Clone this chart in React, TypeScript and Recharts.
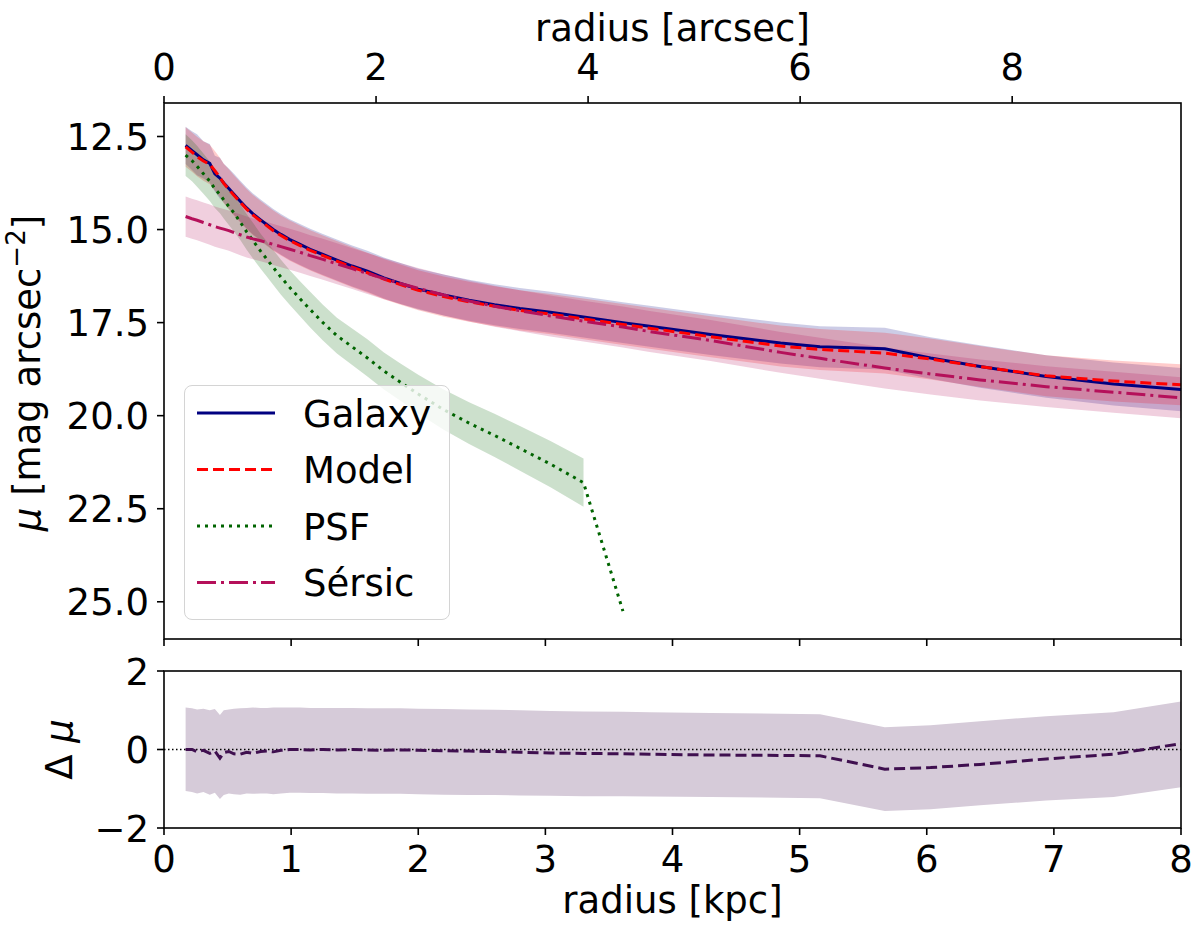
import React from "react";
import { Area, ComposedChart, Line, ReferenceLine, XAxis, YAxis } from "recharts";

// radius in kpc, shared by both panels
const radius = [
  0.17, 0.22, 0.26, 0.31, 0.36, 0.4, 0.44, 0.47, 0.51, 0.55, 0.6, 0.65, 0.7, 0.76, 0.81, 0.86, 0.92, 0.99, 1.07,
  1.15, 1.25, 1.36, 1.48, 1.6, 1.73, 1.86, 2.0, 2.2, 2.4, 2.6, 2.8, 3.04, 3.3, 3.61, 3.82, 4.3, 4.85, 5.16, 5.67,
  6.03, 6.42, 6.94, 7.47, 8.0
];
const kpcPerArcsec = 0.834;

// surface brightness profiles [mag arcsec^-2]
const galaxy = [
  12.74, 12.88, 12.99, 13.13, 13.22, 13.5, 13.62, 13.75, 13.9, 14.05, 14.24, 14.42, 14.58, 14.74, 14.87, 15.0, 15.13,
  15.27, 15.4, 15.53, 15.67, 15.82, 15.98, 16.12, 16.3, 16.45, 16.6, 16.76, 16.9, 17.02, 17.12, 17.22, 17.35, 17.5,
  17.6, 17.82, 18.05, 18.15, 18.2, 18.45, 18.68, 18.95, 19.15, 19.3
];
const galaxyErr = [
  0.5, 0.52, 0.55, 0.5, 0.52, 0.48, 0.55, 0.52, 0.54, 0.55, 0.55, 0.55, 0.55, 0.55, 0.55, 0.55, 0.55, 0.55, 0.55,
  0.55, 0.55, 0.55, 0.55, 0.55, 0.55, 0.55, 0.55, 0.55, 0.55, 0.55, 0.55, 0.55, 0.55, 0.55, 0.55, 0.55, 0.55, 0.55,
  0.56, 0.56, 0.57, 0.57, 0.58, 0.58
];
const model = [
  12.78, 12.92, 13.04, 13.16, 13.25, 13.42, 13.6, 13.76, 13.92, 14.08, 14.27, 14.45, 14.61, 14.77, 14.9, 15.03, 15.16,
  15.3, 15.43, 15.56, 15.7, 15.85, 16.01, 16.16, 16.33, 16.48, 16.63, 16.8, 16.94, 17.06, 17.17, 17.27, 17.4, 17.55,
  17.65, 17.88, 18.13, 18.22, 18.32, 18.48, 18.68, 18.93, 19.07, 19.17
];
const modelErr = [
  0.53, 0.53, 0.53, 0.53, 0.53, 0.53, 0.53, 0.53, 0.54, 0.54, 0.54, 0.54, 0.54, 0.54, 0.54, 0.54, 0.54, 0.54, 0.54,
  0.54, 0.54, 0.54, 0.54, 0.54, 0.54, 0.54, 0.54, 0.54, 0.54, 0.54, 0.54, 0.54, 0.55, 0.55, 0.55, 0.55, 0.55, 0.55,
  0.55, 0.55, 0.55, 0.55, 0.55, 0.55
];
const psf = [
  13.0, 13.15, 13.3, 13.5, 13.7, 13.9, 14.06, 14.2, 14.38, 14.55, 14.8, 15.06, 15.3, 15.58, 15.8, 16.02, 16.28, 16.56,
  16.86, 17.15, 17.5, 17.85, 18.15, 18.45, 18.8, 19.1, 19.42, 19.84, 20.2, 20.53, 20.88, 21.3, 21.8, 25.25, null,
  null, null, null, null, null, null, null, null, null
];
const psfErr = [
  0.56, 0.55, 0.55, 0.54, 0.53, 0.52, 0.5, 0.5, 0.5, 0.5, 0.48, 0.48, 0.48, 0.47, 0.47, 0.47, 0.47, 0.47, 0.47, 0.48,
  0.48, 0.48, 0.49, 0.5, 0.5, 0.5, 0.52, 0.54, 0.56, 0.58, 0.6, 0.62, 0.65, null, null, null, null, null, null, null,
  null, null, null, null
];
const sersic = [
  14.65, 14.71, 14.75, 14.81, 14.87, 14.92, 14.96, 14.99, 15.03, 15.08, 15.14, 15.2, 15.25, 15.3, 15.35, 15.4, 15.46,
  15.53, 15.61, 15.7, 15.8, 15.92, 16.05, 16.18, 16.32, 16.45, 16.58, 16.76, 16.92, 17.06, 17.18, 17.32, 17.46, 17.62,
  17.74, 17.98, 18.3, 18.46, 18.72, 18.88, 19.04, 19.22, 19.37, 19.52
];
const sersicErr = [
  0.54, 0.54, 0.54, 0.54, 0.54, 0.54, 0.54, 0.54, 0.54, 0.54, 0.55, 0.55, 0.55, 0.55, 0.55, 0.55, 0.55, 0.55, 0.55,
  0.55, 0.55, 0.55, 0.55, 0.55, 0.55, 0.55, 0.55, 0.55, 0.55, 0.55, 0.55, 0.55, 0.55, 0.55, 0.55, 0.55, 0.55, 0.55,
  0.55, 0.55, 0.55, 0.55, 0.55, 0.55
];

// residual panel
const residual = [
  0.0, 0.0, -0.06, -0.02, -0.1, -0.04, -0.22, -0.08, -0.05, -0.11, -0.12, -0.07, -0.1, -0.05, -0.04, -0.06, -0.02, 0.0,
  0.0, -0.01, 0.0, -0.01, 0.0, -0.01, -0.02, -0.01, -0.02, -0.03, -0.04, -0.05, -0.07, -0.09, -0.1, -0.11, -0.12,
  -0.14, -0.15, -0.16, -0.5, -0.46, -0.38, -0.24, -0.12, 0.15
];
const residualHi = [
  1.07, 1.05, 1.02, 1.04, 1.0, 1.03, 0.88, 1.0, 1.02, 1.04, 1.05, 1.06, 1.07, 1.06, 1.06, 1.07, 1.07, 1.07, 1.07, 1.06,
  1.06, 1.06, 1.06, 1.05, 1.05, 1.05, 1.04, 1.03, 1.02, 1.01, 1.0, 0.98, 0.97, 0.96, 0.95, 0.93, 0.91, 0.9, 0.57,
  0.62, 0.72, 0.85, 0.95, 1.22
];
const residualLo = [
  -1.06, -1.08, -1.12, -1.08, -1.15, -1.1, -1.26, -1.16, -1.12, -1.14, -1.15, -1.12, -1.13, -1.12, -1.12, -1.14,
  -1.12, -1.1, -1.1, -1.11, -1.11, -1.12, -1.12, -1.13, -1.13, -1.13, -1.14, -1.15, -1.16, -1.16, -1.17, -1.18, -1.19,
  -1.19, -1.2, -1.21, -1.23, -1.24, -1.57, -1.52, -1.42, -1.3, -1.21, -0.96
];

const kpcTicks = [0, 1, 2, 3, 4, 5, 6, 7, 8];
const arcsecTicks = [0, 2, 4, 6, 8];
const muTicks = [12.5, 15, 17.5, 20, 22.5, 25];
const dmuTicks = [-2, 0, 2];
const legendItems = [
  { name: "Galaxy", color: "#000080", dash: undefined as string | undefined },
  { name: "Model", color: "#ff0000", dash: "11 5" },
  { name: "PSF", color: "#006400", dash: "3 5" },
  { name: "Sérsic", color: "#b5105a", dash: "19 5 3 5" }
];

const FONT = "DejaVu Sans";
const FS = 37;
const BLACK = "#000";

const rows = radius.map((r, i) => ({
  r,
  arcsec: r / kpcPerArcsec,
  galaxy: galaxy[i],
  model: model[i],
  psf: psf[i],
  sersic: sersic[i],
  residual: residual[i],
  galaxyBand: [galaxy[i] - galaxyErr[i], galaxy[i] + galaxyErr[i]],
  modelBand: [model[i] - modelErr[i], model[i] + modelErr[i]],
  sersicBand: [sersic[i] - sersicErr[i], sersic[i] + sersicErr[i]],
  psfBand: psf[i] == null || psfErr[i] == null ? null : [psf[i]! - psfErr[i]!, psf[i]! + psfErr[i]!],
  residualBand: [residualLo[i], residualHi[i]]
}));

const minus = (v: number) => (v < 0 ? `\u2212${Math.abs(v)}` : String(v));

const txt = { fontFamily: FONT, fontSize: FS, fill: BLACK };

const LeftTick = (fmt: (v: number) => string) => (p: any) => (
  <text x={p.x - 8} y={p.y + 13.5} textAnchor="end" {...txt}>
    {fmt(p.payload.value)}
  </text>
);
const BottomTick = (p: any) => (
  <text x={p.x} y={p.y + 36.5} textAnchor="middle" {...txt}>
    {p.payload.value}
  </text>
);
const TopTick = (p: any) => (
  <text x={p.x} y={p.y - 16} textAnchor="middle" {...txt}>
    {p.payload.value}
  </text>
);
const NoTick = () => <g />;

const MuTitle = (props: any) => {
  const vb = props.viewBox ?? { x: 84, y: 103, width: 80, height: 536 };
  const cx = vb.x - 44;
  const cy = vb.y + vb.height / 2 + 2;
  return (
    <text x={cx} y={cy} transform={`rotate(-90 ${cx} ${cy})`} textAnchor="middle" {...txt}>
      <tspan fontStyle="italic">μ</tspan> [mag arcsec
      <tspan dy={-15} fontSize={26}>
        −2
      </tspan>
      <tspan dy={15}>]</tspan>
    </text>
  );
};

const DeltaTitle = (props: any) => {
  const vb = props.viewBox ?? { x: 84, y: 671, width: 80, height: 157 };
  const cx = vb.x - 12;
  const cy = vb.y + vb.height / 2;
  return (
    <text x={cx} y={cy} transform={`rotate(-90 ${cx} ${cy})`} textAnchor="middle" {...txt}>
      Δ <tspan fontStyle="italic">μ</tspan>
    </text>
  );
};

const ArcsecTitle = (props: any) => {
  const vb = props.viewBox ?? { x: 164, y: 43, width: 1017, height: 60 };
  return (
    <text x={vb.x + vb.width / 2} y={41} textAnchor="middle" {...txt}>
      radius [arcsec]
    </text>
  );
};

const KpcTitle = (props: any) => {
  const vb = props.viewBox ?? { x: 164, y: 828, width: 1017, height: 70 };
  return (
    <text x={vb.x + vb.width / 2} y={913} textAnchor="middle" {...txt}>
      radius [kpc]
    </text>
  );
};

const band = (key: string, color: string, opacity = 0.2) => (
  <Area
    type="linear"
    dataKey={key}
    stroke="none"
    fill={color}
    fillOpacity={opacity}
    dot={false}
    activeDot={false}
    isAnimationActive={false}
  />
);

const curve = (key: string, color: string, dash?: string) => (
  <Line
    type="linear"
    dataKey={key}
    stroke={color}
    strokeWidth={3}
    strokeDasharray={dash}
    dot={false}
    activeDot={false}
    isAnimationActive={false}
  />
);

function Legend() {
  return (
    <div
      style={{
        position: "absolute",
        left: 184,
        top: 385,
        width: 266,
        height: 235,
        boxSizing: "border-box",
        background: "rgba(255,255,255,0.8)",
        border: "1.5px solid #d4d4d4",
        borderRadius: 8
      }}
    >
      <svg width={266} height={235} style={{ position: "absolute", left: -1.5, top: -1.5 }}>
        {legendItems.map((it, i) => {
          const y = 28 + i * 56.5;
          return (
            <g key={it.name}>
              <line x1={13} x2={91} y1={y} y2={y} stroke={it.color} strokeWidth={3} strokeDasharray={it.dash} />
              <text x={119} y={y + 13.5} {...txt}>
                {it.name}
              </text>
            </g>
          );
        })}
      </svg>
    </div>
  );
}

const onKpcMu = { xAxisId: "kpc", yAxisId: "mu" };

export default function App() {
  return (
    <div style={{ position: "absolute", left: 0, top: 0, width: 1200, height: 932, background: "#fff" }}>
      <div style={{ position: "absolute", left: 0, top: 0 }}>
        <ComposedChart width={1200} height={650} data={rows} margin={{ top: 43, right: 19, bottom: 1, left: 84 }}>
          <XAxis
            xAxisId="kpc"
            dataKey="r"
            type="number"
            domain={[0, 8]}
            ticks={kpcTicks}
            height={10}
            tickSize={7}
            tickMargin={0}
            axisLine={false}
            stroke={BLACK}
            tickLine={{ stroke: BLACK, strokeWidth: 1.6 }}
            tick={NoTick}
          />
          <XAxis
            xAxisId="arcsec"
            dataKey="arcsec"
            orientation="top"
            type="number"
            domain={[0, 8 / kpcPerArcsec]}
            allowDataOverflow
            ticks={arcsecTicks}
            height={60}
            tickSize={7}
            tickMargin={0}
            axisLine={false}
            stroke={BLACK}
            tickLine={{ stroke: BLACK, strokeWidth: 1.6 }}
            tick={TopTick}
            label={<ArcsecTitle />}
          />
          <YAxis
            yAxisId="mu"
            type="number"
            reversed
            domain={[11.6, 26.0]}
            allowDataOverflow
            ticks={muTicks}
            width={80}
            tickSize={7}
            tickMargin={0}
            axisLine={false}
            stroke={BLACK}
            tickLine={{ stroke: BLACK, strokeWidth: 1.6 }}
            tick={LeftTick((v) => v.toFixed(1))}
            label={<MuTitle />}
          />
          {React.cloneElement(band("galaxyBand", "#000080"), onKpcMu)}
          {React.cloneElement(curve("galaxy", "#000080"), onKpcMu)}
          {React.cloneElement(band("modelBand", "#ff0000"), onKpcMu)}
          {React.cloneElement(curve("model", "#ff0000", "11 5"), onKpcMu)}
          {React.cloneElement(band("psfBand", "#006400"), onKpcMu)}
          {React.cloneElement(curve("psf", "#006400", "3 5"), onKpcMu)}
          {React.cloneElement(band("sersicBand", "#b5105a"), onKpcMu)}
          {React.cloneElement(curve("sersic", "#b5105a", "19 5 3 5"), onKpcMu)}
        </ComposedChart>
      </div>
      <div style={{ position: "absolute", left: 0, top: 0 }}>
        <ComposedChart width={1200} height={932} data={rows} margin={{ top: 671, right: 19, bottom: 34, left: 84 }}>
          <XAxis
            dataKey="r"
            type="number"
            domain={[0, 8]}
            ticks={kpcTicks}
            height={70}
            tickSize={7}
            tickMargin={0}
            axisLine={false}
            stroke={BLACK}
            tickLine={{ stroke: BLACK, strokeWidth: 1.6 }}
            tick={BottomTick}
            label={<KpcTitle />}
          />
          <YAxis
            type="number"
            domain={[-2, 2]}
            allowDataOverflow
            ticks={dmuTicks}
            width={80}
            tickSize={7}
            tickMargin={0}
            axisLine={false}
            stroke={BLACK}
            tickLine={{ stroke: BLACK, strokeWidth: 1.6 }}
            tick={LeftTick(minus)}
            label={<DeltaTitle />}
          />
          {band("residualBand", "#d6cbd9", 1)}
          <ReferenceLine y={0} stroke={BLACK} strokeWidth={1.5} strokeDasharray="1.5 2.5" />
          {curve("residual", "#3f0f4f", "11 5")}
        </ComposedChart>
      </div>
      <svg width={1200} height={932} style={{ position: "absolute", left: 0, top: 0, pointerEvents: "none" }}>
        <rect x={164} y={103} width={1017} height={536} fill="none" stroke={BLACK} strokeWidth={1.6} />
        <rect x={164} y={671} width={1017} height={157} fill="none" stroke={BLACK} strokeWidth={1.6} />
      </svg>
      <Legend />
    </div>
  );
}
